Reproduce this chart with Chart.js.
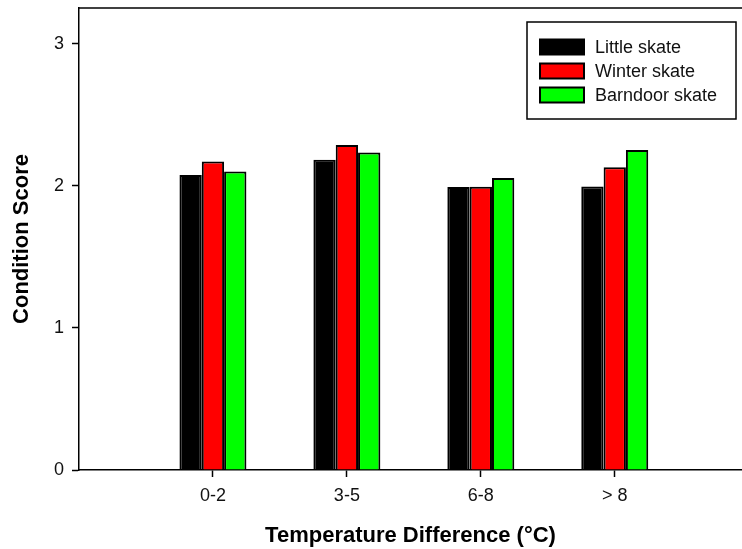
<!DOCTYPE html>
<html>
<head>
<meta charset="utf-8">
<script src="https://cdn.jsdelivr.net/npm/chart.js@4.4.1/dist/chart.umd.min.js"></script>
<style>
  html, body { margin: 0; padding: 0; background: #ffffff; }
  canvas { display: block; }
</style>
</head>
<body>
<canvas id="chart" width="742" height="549"></canvas>
<script>
// Condition score by temperature difference, three skate species
const categories = ['0-2', '3-5', '6-8', '> 8'];
const littleSkate = [2.075, 2.183, 1.990, 1.995];
const winterSkate = [2.171, 2.286, 1.993, 2.129];
const barndoorSkate = [2.099, 2.234, 2.054, 2.251];
const seriesNames = ['Little skate', 'Winter skate', 'Barndoor skate'];
const seriesColors = ['#000000', '#ff0000', '#00ff00'];
const yTicks = [0, 1, 2, 3];

const FONT = "'Liberation Sans', Arial, sans-serif";

const toPoints = values => values.map((v, i) => ({ x: i, y: v }));

// Boxed legend in the upper right of the plot
const boxLegend = {
  id: 'boxLegend',
  afterDraw(chart) {
    const ctx = chart.ctx;
    ctx.save();
    ctx.lineWidth = 1.5;
    ctx.strokeStyle = '#000';
    ctx.strokeRect(527, 22, 209, 97);
    ctx.font = '18px ' + FONT;
    ctx.textBaseline = 'middle';
    ctx.textAlign = 'left';
    chart.data.datasets.forEach((ds, i) => {
      const cy = 47 + i * 24;
      ctx.fillStyle = ds.backgroundColor;
      ctx.fillRect(540, cy - 7.5, 44, 15);
      ctx.lineWidth = 2;
      ctx.strokeRect(540, cy - 7.5, 44, 15);
      ctx.fillStyle = '#111';
      ctx.fillText(ds.label, 595, cy + 1);
    });
    ctx.restore();
  }
};

// Top frame line of the plot area
const topFrame = {
  id: 'topFrame',
  afterDraw(chart) {
    const { ctx, chartArea } = chart;
    ctx.save();
    ctx.strokeStyle = '#000';
    ctx.lineWidth = 1.5;
    ctx.beginPath();
    ctx.moveTo(chartArea.left, chartArea.top);
    ctx.lineTo(chartArea.right, chartArea.top);
    ctx.stroke();
    ctx.restore();
  }
};

new Chart(document.getElementById('chart'), {
  type: 'bar',
  data: {
    datasets: [littleSkate, winterSkate, barndoorSkate].map((vals, i) => ({
      label: seriesNames[i],
      data: toPoints(vals),
      backgroundColor: seriesColors[i],
      borderColor: '#000',
      borderWidth: 2,
      categoryPercentage: 0.5,
      barPercentage: 1.0
    }))
  },
  options: {
    responsive: false,
    animation: false,
    layout: { padding: { top: 8, right: 0, left: 0, bottom: 0 } },
    plugins: { legend: { display: false }, tooltip: { enabled: false } },
    scales: {
      x: {
        type: 'linear',
        offset: false,
        min: -1,
        max: 3.95,
        afterFit: s => { s.height = 79; s.paddingLeft = 0; s.paddingRight = 0; },
        afterBuildTicks: s => {
          s.ticks = [-1, ...categories.map((c, i) => i)].map(v => ({ value: v }));
        },
        ticks: {
          font: { family: FONT, size: 18 },
          color: '#111',
          padding: 8,
          maxRotation: 0,
          autoSkip: false,
          callback: v => (categories[v] !== undefined ? categories[v] : '')
        },
        grid: {
          offset: false,
          drawOnChartArea: false,
          drawTicks: true,
          tickLength: 7,
          tickWidth: 1.5,
          tickColor: c => (c.tick && categories[c.tick.value] !== undefined ? '#000' : 'rgba(0,0,0,0)')
        },
        border: { display: true, color: '#000', width: 1.5 },
        title: {
          display: true,
          text: 'Temperature Difference (°C)',
          font: { family: FONT, size: 22, weight: 'bold' },
          color: '#000',
          padding: { top: 0, bottom: 0 }
        }
      },
      y: {
        min: 0,
        max: 3.25,
        afterFit: s => { s.width = 79; s.paddingTop = 0; s.paddingBottom = 0; },
        afterBuildTicks: s => {
          s.ticks = yTicks.map(v => ({ value: v }));
        },
        ticks: {
          font: { family: FONT, size: 18 },
          color: '#111',
          padding: 8,
          callback: v => String(v)
        },
        grid: {
          drawOnChartArea: false,
          drawTicks: true,
          tickLength: 7,
          tickWidth: 1.5,
          tickColor: '#000'
        },
        border: { display: true, color: '#000', width: 1.5 },
        title: {
          display: true,
          text: 'Condition Score',
          font: { family: FONT, size: 22, weight: 'bold' },
          color: '#000',
          padding: { top: 9, bottom: 0 }
        }
      }
    }
  },
  plugins: [boxLegend, topFrame]
});
</script>
</body>
</html>
